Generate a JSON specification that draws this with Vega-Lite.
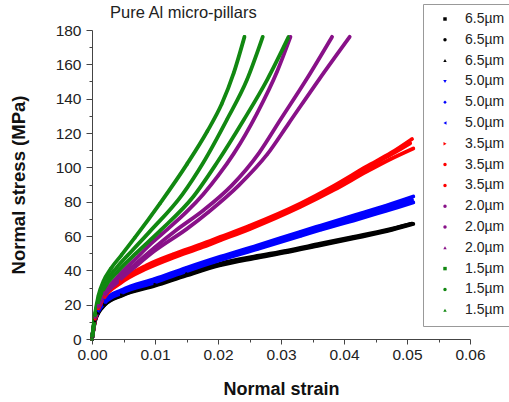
{
  "$schema": "https://vega.github.io/schema/vega-lite/v6.json",
  "width": 378,
  "height": 309,
  "autosize": {"type": "none"},
  "padding": {"left": 92, "top": 30, "right": 39, "bottom": 63},
  "background": "white",
  "config": {
    "view": {"stroke": null},
    "font": "Liberation Sans"
  },
  "title": {
    "text": "Pure Al micro-pillars",
    "anchor": "start",
    "frame": "group",
    "dx": 18,
    "offset": -18,
    "fontSize": 16.5,
    "fontWeight": "normal",
    "color": "#222222"
  },
  "data": {
    "values": [
      {"c": "6.5µm a", "x": 0, "y": 0}, {"c": "6.5µm a", "x": 0.0005, "y": 11}, {"c": "6.5µm a", "x": 0.001, "y": 15.5}, {"c": "6.5µm a", "x": 0.002, "y": 20}, {"c": "6.5µm a", "x": 0.0047, "y": 25.5}, {"c": "6.5µm a", "x": 0.01, "y": 31.5}, {"c": "6.5µm a", "x": 0.015, "y": 37.5}, {"c": "6.5µm a", "x": 0.0204, "y": 43.5}, {"c": "6.5µm a", "x": 0.0257, "y": 47.5}, {"c": "6.5µm a", "x": 0.031, "y": 51}, {"c": "6.5µm a", "x": 0.0362, "y": 55}, {"c": "6.5µm a", "x": 0.0415, "y": 59}, {"c": "6.5µm a", "x": 0.0468, "y": 63.2}, {"c": "6.5µm a", "x": 0.0508, "y": 67.2},
      {"c": "6.5µm b", "x": 0, "y": 0}, {"c": "6.5µm b", "x": 0.0005, "y": 11.5}, {"c": "6.5µm b", "x": 0.001, "y": 16}, {"c": "6.5µm b", "x": 0.002, "y": 20.5}, {"c": "6.5µm b", "x": 0.0047, "y": 26}, {"c": "6.5µm b", "x": 0.01, "y": 32}, {"c": "6.5µm b", "x": 0.015, "y": 38}, {"c": "6.5µm b", "x": 0.0204, "y": 44}, {"c": "6.5µm b", "x": 0.0257, "y": 48}, {"c": "6.5µm b", "x": 0.031, "y": 51.5}, {"c": "6.5µm b", "x": 0.0362, "y": 55.5}, {"c": "6.5µm b", "x": 0.0415, "y": 59.5}, {"c": "6.5µm b", "x": 0.0468, "y": 63.6}, {"c": "6.5µm b", "x": 0.0505, "y": 67},
      {"c": "6.5µm c", "x": 0, "y": 0}, {"c": "6.5µm c", "x": 0.0005, "y": 10.5}, {"c": "6.5µm c", "x": 0.001, "y": 15}, {"c": "6.5µm c", "x": 0.002, "y": 19.8}, {"c": "6.5µm c", "x": 0.0047, "y": 25.2}, {"c": "6.5µm c", "x": 0.01, "y": 31}, {"c": "6.5µm c", "x": 0.015, "y": 37}, {"c": "6.5µm c", "x": 0.0204, "y": 43}, {"c": "6.5µm c", "x": 0.0257, "y": 47}, {"c": "6.5µm c", "x": 0.031, "y": 50.6}, {"c": "6.5µm c", "x": 0.0362, "y": 54.6}, {"c": "6.5µm c", "x": 0.0415, "y": 58.6}, {"c": "6.5µm c", "x": 0.0468, "y": 62.8}, {"c": "6.5µm c", "x": 0.051, "y": 67},

      {"c": "5.0µm a", "x": 0, "y": 0}, {"c": "5.0µm a", "x": 0.0005, "y": 12.5}, {"c": "5.0µm a", "x": 0.001, "y": 17}, {"c": "5.0µm a", "x": 0.002, "y": 22.5}, {"c": "5.0µm a", "x": 0.0047, "y": 28.5}, {"c": "5.0µm a", "x": 0.01, "y": 35}, {"c": "5.0µm a", "x": 0.015, "y": 41.5}, {"c": "5.0µm a", "x": 0.0204, "y": 48}, {"c": "5.0µm a", "x": 0.0262, "y": 54.5}, {"c": "5.0µm a", "x": 0.0331, "y": 62.5}, {"c": "5.0µm a", "x": 0.0362, "y": 66}, {"c": "5.0µm a", "x": 0.042, "y": 72.5}, {"c": "5.0µm a", "x": 0.0465, "y": 77.5}, {"c": "5.0µm a", "x": 0.051, "y": 83},
      {"c": "5.0µm b", "x": 0, "y": 0}, {"c": "5.0µm b", "x": 0.0005, "y": 12}, {"c": "5.0µm b", "x": 0.001, "y": 16.5}, {"c": "5.0µm b", "x": 0.002, "y": 21.5}, {"c": "5.0µm b", "x": 0.0047, "y": 27.5}, {"c": "5.0µm b", "x": 0.01, "y": 34}, {"c": "5.0µm b", "x": 0.015, "y": 40.5}, {"c": "5.0µm b", "x": 0.0204, "y": 47}, {"c": "5.0µm b", "x": 0.0262, "y": 53.5}, {"c": "5.0µm b", "x": 0.0331, "y": 61.5}, {"c": "5.0µm b", "x": 0.0362, "y": 65}, {"c": "5.0µm b", "x": 0.042, "y": 71}, {"c": "5.0µm b", "x": 0.0465, "y": 76}, {"c": "5.0µm b", "x": 0.0508, "y": 81},
      {"c": "5.0µm c", "x": 0, "y": 0}, {"c": "5.0µm c", "x": 0.0005, "y": 11.5}, {"c": "5.0µm c", "x": 0.001, "y": 16}, {"c": "5.0µm c", "x": 0.002, "y": 21}, {"c": "5.0µm c", "x": 0.0047, "y": 26.8}, {"c": "5.0µm c", "x": 0.01, "y": 33}, {"c": "5.0µm c", "x": 0.015, "y": 39.5}, {"c": "5.0µm c", "x": 0.0204, "y": 46}, {"c": "5.0µm c", "x": 0.0262, "y": 52.3}, {"c": "5.0µm c", "x": 0.0331, "y": 60}, {"c": "5.0µm c", "x": 0.0362, "y": 63.5}, {"c": "5.0µm c", "x": 0.042, "y": 69.5}, {"c": "5.0µm c", "x": 0.0465, "y": 74.5}, {"c": "5.0µm c", "x": 0.051, "y": 79.5},

      {"c": "3.5µm a", "x": 0, "y": 0}, {"c": "3.5µm a", "x": 0.0005, "y": 12.5}, {"c": "3.5µm a", "x": 0.001, "y": 18.5}, {"c": "3.5µm a", "x": 0.002, "y": 25.5}, {"c": "3.5µm a", "x": 0.0045, "y": 34}, {"c": "3.5µm a", "x": 0.0087, "y": 43}, {"c": "3.5µm a", "x": 0.013, "y": 49.5}, {"c": "3.5µm a", "x": 0.0172, "y": 55}, {"c": "3.5µm a", "x": 0.0204, "y": 59.5}, {"c": "3.5µm a", "x": 0.025, "y": 66}, {"c": "3.5µm a", "x": 0.0331, "y": 79}, {"c": "3.5µm a", "x": 0.0385, "y": 89.5}, {"c": "3.5µm a", "x": 0.0436, "y": 100.5}, {"c": "3.5µm a", "x": 0.0475, "y": 108.5}, {"c": "3.5µm a", "x": 0.0508, "y": 116.5},
      {"c": "3.5µm b", "x": 0, "y": 0}, {"c": "3.5µm b", "x": 0.0005, "y": 12}, {"c": "3.5µm b", "x": 0.001, "y": 18}, {"c": "3.5µm b", "x": 0.002, "y": 25}, {"c": "3.5µm b", "x": 0.0045, "y": 33}, {"c": "3.5µm b", "x": 0.0087, "y": 42}, {"c": "3.5µm b", "x": 0.013, "y": 48.5}, {"c": "3.5µm b", "x": 0.0172, "y": 54}, {"c": "3.5µm b", "x": 0.0204, "y": 58.5}, {"c": "3.5µm b", "x": 0.025, "y": 65}, {"c": "3.5µm b", "x": 0.0331, "y": 78}, {"c": "3.5µm b", "x": 0.0385, "y": 88.5}, {"c": "3.5µm b", "x": 0.0436, "y": 99.5}, {"c": "3.5µm b", "x": 0.0475, "y": 107.5}, {"c": "3.5µm b", "x": 0.0505, "y": 114},
      {"c": "3.5µm c", "x": 0, "y": 0}, {"c": "3.5µm c", "x": 0.0005, "y": 11.5}, {"c": "3.5µm c", "x": 0.001, "y": 17.5}, {"c": "3.5µm c", "x": 0.002, "y": 24.5}, {"c": "3.5µm c", "x": 0.0045, "y": 32.5}, {"c": "3.5µm c", "x": 0.0087, "y": 41}, {"c": "3.5µm c", "x": 0.013, "y": 47.5}, {"c": "3.5µm c", "x": 0.0172, "y": 53}, {"c": "3.5µm c", "x": 0.0204, "y": 57.5}, {"c": "3.5µm c", "x": 0.025, "y": 64}, {"c": "3.5µm c", "x": 0.0331, "y": 77}, {"c": "3.5µm c", "x": 0.0385, "y": 87}, {"c": "3.5µm c", "x": 0.0436, "y": 97.5}, {"c": "3.5µm c", "x": 0.0475, "y": 105}, {"c": "3.5µm c", "x": 0.051, "y": 111},

      {"c": "2.0µm a", "x": 0, "y": 0}, {"c": "2.0µm a", "x": 0.0005, "y": 13}, {"c": "2.0µm a", "x": 0.001, "y": 19.5}, {"c": "2.0µm a", "x": 0.002, "y": 27}, {"c": "2.0µm a", "x": 0.004, "y": 36}, {"c": "2.0µm a", "x": 0.007, "y": 47}, {"c": "2.0µm a", "x": 0.0095, "y": 56}, {"c": "2.0µm a", "x": 0.012, "y": 64}, {"c": "2.0µm a", "x": 0.015, "y": 74}, {"c": "2.0µm a", "x": 0.0177, "y": 84.5}, {"c": "2.0µm a", "x": 0.02, "y": 95}, {"c": "2.0µm a", "x": 0.0225, "y": 108}, {"c": "2.0µm a", "x": 0.0262, "y": 131.5}, {"c": "2.0µm a", "x": 0.0294, "y": 156}, {"c": "2.0µm a", "x": 0.0315, "y": 176},
      {"c": "2.0µm b", "x": 0, "y": 0}, {"c": "2.0µm b", "x": 0.0005, "y": 13}, {"c": "2.0µm b", "x": 0.001, "y": 19}, {"c": "2.0µm b", "x": 0.002, "y": 26}, {"c": "2.0µm b", "x": 0.004, "y": 34}, {"c": "2.0µm b", "x": 0.007, "y": 44}, {"c": "2.0µm b", "x": 0.01, "y": 53.5}, {"c": "2.0µm b", "x": 0.0134, "y": 63.5}, {"c": "2.0µm b", "x": 0.0177, "y": 75}, {"c": "2.0µm b", "x": 0.0222, "y": 89.5}, {"c": "2.0µm b", "x": 0.0265, "y": 108.3}, {"c": "2.0µm b", "x": 0.0299, "y": 127.7}, {"c": "2.0µm b", "x": 0.034, "y": 151}, {"c": "2.0µm b", "x": 0.0381, "y": 176},
      {"c": "2.0µm c", "x": 0, "y": 0}, {"c": "2.0µm c", "x": 0.0005, "y": 12.5}, {"c": "2.0µm c", "x": 0.001, "y": 18.5}, {"c": "2.0µm c", "x": 0.002, "y": 25.5}, {"c": "2.0µm c", "x": 0.004, "y": 33}, {"c": "2.0µm c", "x": 0.007, "y": 42.5}, {"c": "2.0µm c", "x": 0.01, "y": 51.5}, {"c": "2.0µm c", "x": 0.015, "y": 64}, {"c": "2.0µm c", "x": 0.0185, "y": 74}, {"c": "2.0µm c", "x": 0.0233, "y": 89.5}, {"c": "2.0µm c", "x": 0.0278, "y": 107.5}, {"c": "2.0µm c", "x": 0.0312, "y": 125.5}, {"c": "2.0µm c", "x": 0.036, "y": 151}, {"c": "2.0µm c", "x": 0.0409, "y": 176},

      {"c": "1.5µm a", "x": 0, "y": 0}, {"c": "1.5µm a", "x": 0.0005, "y": 15}, {"c": "1.5µm a", "x": 0.001, "y": 25}, {"c": "1.5µm a", "x": 0.0018, "y": 33.5}, {"c": "1.5µm a", "x": 0.003, "y": 41}, {"c": "1.5µm a", "x": 0.0047, "y": 49}, {"c": "1.5µm a", "x": 0.0068, "y": 59}, {"c": "1.5µm a", "x": 0.0108, "y": 79}, {"c": "1.5µm a", "x": 0.0151, "y": 102}, {"c": "1.5µm a", "x": 0.0183, "y": 121}, {"c": "1.5µm a", "x": 0.0206, "y": 137}, {"c": "1.5µm a", "x": 0.0225, "y": 155}, {"c": "1.5µm a", "x": 0.0242, "y": 176},
      {"c": "1.5µm b", "x": 0, "y": 0}, {"c": "1.5µm b", "x": 0.0005, "y": 14}, {"c": "1.5µm b", "x": 0.001, "y": 23}, {"c": "1.5µm b", "x": 0.002, "y": 32}, {"c": "1.5µm b", "x": 0.004, "y": 42}, {"c": "1.5µm b", "x": 0.0065, "y": 52}, {"c": "1.5µm b", "x": 0.0092, "y": 62.7}, {"c": "1.5µm b", "x": 0.0143, "y": 84}, {"c": "1.5µm b", "x": 0.0177, "y": 103}, {"c": "1.5µm b", "x": 0.0214, "y": 127.7}, {"c": "1.5µm b", "x": 0.0246, "y": 151}, {"c": "1.5µm b", "x": 0.0271, "y": 176},
      {"c": "1.5µm c", "x": 0, "y": 0}, {"c": "1.5µm c", "x": 0.0005, "y": 13.5}, {"c": "1.5µm c", "x": 0.001, "y": 22}, {"c": "1.5µm c", "x": 0.002, "y": 30}, {"c": "1.5µm c", "x": 0.004, "y": 39}, {"c": "1.5µm c", "x": 0.007, "y": 50}, {"c": "1.5µm c", "x": 0.0107, "y": 62.7}, {"c": "1.5µm c", "x": 0.0161, "y": 83}, {"c": "1.5µm c", "x": 0.0198, "y": 102.5}, {"c": "1.5µm c", "x": 0.0241, "y": 127.7}, {"c": "1.5µm c", "x": 0.0278, "y": 151}, {"c": "1.5µm c", "x": 0.0312, "y": 176}
    ]
  },
  "encoding": {
    "x": {
      "field": "x",
      "type": "quantitative",
      "scale": {"domain": [0, 0.06], "nice": false, "zero": false},
      "axis": {
        "title": "Normal strain",
        "values": [0, 0.005, 0.01, 0.015, 0.02, 0.025, 0.03, 0.035, 0.04, 0.045, 0.05, 0.055, 0.06],
        "labelExpr": "round(datum.value * 200) % 2 == 0 ? format(datum.value, '.2f') : ''",
        "tickSize": {"condition": {"test": "round(datum.value * 200) % 2 == 0", "value": 5}, "value": 3},
        "labelFlush": false,
        "labelOverlap": false,
        "grid": false,
        "domainColor": "#444444",
        "tickColor": "#444444",
        "labelFontSize": 15.5,
        "labelColor": "#222222",
        "labelPadding": 3,
        "titleFontSize": 18,
        "titleFontWeight": "bold",
        "titleColor": "#111111",
        "titlePadding": 18
      }
    },
    "y": {
      "field": "y",
      "type": "quantitative",
      "scale": {"domain": [0, 180], "nice": false},
      "axis": {
        "title": "Normal stress (MPa)",
        "values": [0, 10, 20, 30, 40, 50, 60, 70, 80, 90, 100, 110, 120, 130, 140, 150, 160, 170, 180],
        "labelExpr": "datum.value % 20 == 0 ? datum.label : ''",
        "tickSize": {"condition": {"test": "datum.value % 20 == 0", "value": 6}, "value": 3},
        "labelFlush": false,
        "labelOverlap": false,
        "grid": false,
        "domainColor": "#444444",
        "tickColor": "#444444",
        "labelFontSize": 15.5,
        "labelColor": "#222222",
        "labelPadding": 5,
        "titleFontSize": 18.5,
        "titleFontWeight": "bold",
        "titleColor": "#111111",
        "titlePadding": 27
      }
    },
    "color": {
      "field": "c",
      "type": "nominal",
      "scale": {
        "domain": ["6.5µm a", "6.5µm b", "6.5µm c", "5.0µm a", "5.0µm b", "5.0µm c", "3.5µm a", "3.5µm b", "3.5µm c", "2.0µm a", "2.0µm b", "2.0µm c", "1.5µm a", "1.5µm b", "1.5µm c"],
        "range": ["#000000", "#000000", "#000000", "#0000ff", "#0000ff", "#0000ff", "#ff0000", "#ff0000", "#ff0000", "#881188", "#881188", "#881188", "#118811", "#118811", "#118811"]
      },
      "legend": {
        "orient": "none",
        "legendX": 331,
        "legendY": -26,
        "title": null,
        "strokeColor": "#999999",
        "fillColor": "white",
        "padding": 8,
        "rowPadding": 6.8,
        "symbolSize": 12,
        "symbolStrokeWidth": 0,
        "symbolOffset": 7,
        "labelOffset": 13,
        "labelFontSize": 14,
        "labelColor": "#222222",
        "labelExpr": "split(datum.label, ' ')[0]"
      }
    }
  },
  "layer": [
    {
      "mark": {"type": "line", "strokeWidth": 3.8, "strokeJoin": "round", "strokeCap": "round", "interpolate": "monotone"}
    },
    {
      "mark": {"type": "point", "filled": true, "size": 8, "opacity": 1},
      "encoding": {
        "shape": {
          "field": "c",
          "type": "nominal",
          "scale": {
            "domain": ["6.5µm a", "6.5µm b", "6.5µm c", "5.0µm a", "5.0µm b", "5.0µm c", "3.5µm a", "3.5µm b", "3.5µm c", "2.0µm a", "2.0µm b", "2.0µm c", "1.5µm a", "1.5µm b", "1.5µm c"],
            "range": ["square", "circle", "triangle-up", "triangle-down", "diamond", "triangle-left", "triangle-right", "circle", "circle", "circle", "circle", "triangle-up", "square", "circle", "triangle-up"]
          },
          "legend": {
            "orient": "none",
            "legendX": 331,
            "legendY": -26,
            "title": null,
            "strokeColor": "#999999",
            "fillColor": "white",
            "padding": 8,
            "rowPadding": 6.8,
            "symbolSize": 12,
            "symbolStrokeWidth": 0,
            "symbolOffset": 7,
            "labelOffset": 13,
            "labelFontSize": 14,
            "labelColor": "#222222",
            "labelExpr": "split(datum.label, ' ')[0]"
          }
        }
      }
    }
  ]
}
